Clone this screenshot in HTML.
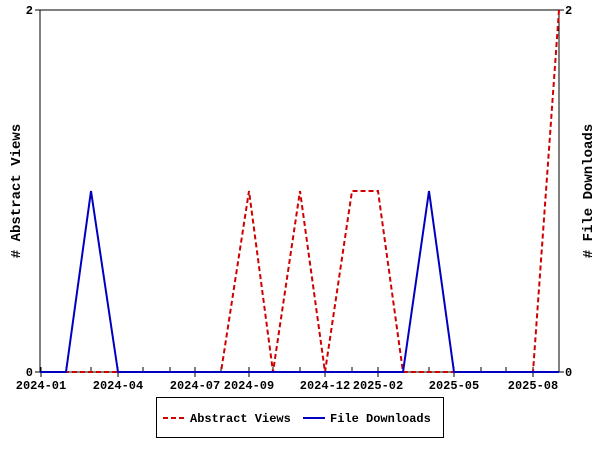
<!DOCTYPE html>
<html><head><style>body{margin:0;background:#fff}svg{display:block}</style></head><body>
<svg width="600" height="450" xmlns="http://www.w3.org/2000/svg" font-family="Liberation Mono, monospace" font-weight="bold" font-size="12">
<rect x="40" y="10" width="519" height="362" fill="none" stroke="#000" stroke-width="1"/>
<g stroke="#000">
<line x1="35" y1="10" x2="40" y2="10"/><line x1="35" y1="372" x2="40" y2="372"/>
<line x1="559" y1="10" x2="564" y2="10"/><line x1="559" y1="372" x2="564" y2="372"/>
<g id="t">
<line x1="41" y1="367" x2="41" y2="377"/><line x1="66" y1="367" x2="66" y2="372"/><line x1="91" y1="367" x2="91" y2="372"/><line x1="118" y1="367" x2="118" y2="377"/><line x1="143" y1="367" x2="143" y2="372"/><line x1="170" y1="367" x2="170" y2="372"/><line x1="195" y1="367" x2="195" y2="377"/><line x1="221" y1="367" x2="221" y2="372"/><line x1="249" y1="367" x2="249" y2="377"/><line x1="273" y1="367" x2="273" y2="372"/><line x1="300" y1="367" x2="300" y2="372"/><line x1="325" y1="367" x2="325" y2="377"/><line x1="352" y1="367" x2="352" y2="372"/><line x1="378" y1="367" x2="378" y2="377"/><line x1="403" y1="367" x2="403" y2="372"/><line x1="429" y1="367" x2="429" y2="372"/><line x1="454" y1="367" x2="454" y2="377"/><line x1="481" y1="367" x2="481" y2="372"/><line x1="506" y1="367" x2="506" y2="372"/><line x1="533" y1="367" x2="533" y2="377"/>
</g></g>
<g text-anchor="middle">
<text x="41" y="389">2024-01</text><text x="118" y="389">2024-04</text><text x="195" y="389">2024-07</text><text x="249" y="389">2024-09</text><text x="325" y="389">2024-12</text><text x="378" y="389">2025-02</text><text x="454" y="389">2025-05</text><text x="533" y="389">2025-08</text>
</g>
<text x="33" y="14" text-anchor="end">2</text><text x="33" y="376" text-anchor="end">0</text>
<text x="565" y="14">2</text><text x="565" y="376">0</text>
<text transform="translate(20,191) rotate(-90)" text-anchor="middle" font-size="14">&#35; Abstract Views</text>
<text transform="translate(592,191) rotate(-90)" text-anchor="middle" font-size="14"># File Downloads</text>
<polyline fill="none" stroke="#d00000" stroke-width="2" stroke-dasharray="5,3" points="40,372 221,372 249,191 273,372 300,191 325,372 352,191 378,191 403,372 533,372 559,10"/>
<polyline fill="none" stroke="#0000c0" stroke-width="2" points="40,372 66,372 91,191 118,372 403,372 429,191 454,372 559,372"/>
<rect x="156.5" y="397.5" width="287" height="40" fill="#fff" stroke="#000"/>
<line x1="163" y1="418" x2="185" y2="418" stroke="#d00000" stroke-width="2" stroke-dasharray="5,3"/>
<text x="190" y="422">Abstract Views</text>
<line x1="303" y1="418" x2="325" y2="418" stroke="#0000c0" stroke-width="2"/>
<text x="330" y="422">File Downloads</text>
</svg>
</body></html>
